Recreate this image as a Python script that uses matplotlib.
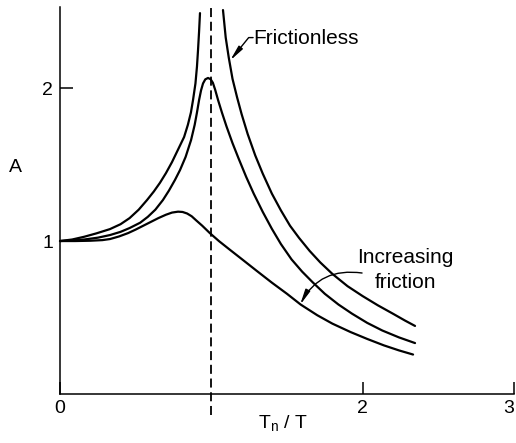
import matplotlib
matplotlib.use("Agg")
import matplotlib.pyplot as plt

plt.rcParams['font.family'] = ['Liberation Sans', 'DejaVu Sans']

# Amplitude A against frequency ratio Tn/T
x_free_low = [0.00, 0.08, 0.16, 0.24, 0.33, 0.40, 0.46, 0.52, 0.575, 0.62, 0.66, 0.70, 0.74, 0.78,
              0.82, 0.845, 0.865, 0.879, 0.895, 0.905, 0.912, 0.919, 0.925]
a_free_low = [1.000, 1.010, 1.028, 1.050, 1.078, 1.110, 1.150, 1.205, 1.268, 1.324, 1.380, 1.444, 1.516, 1.598,
              1.680, 1.760, 1.840, 1.922, 2.030, 2.140, 2.248, 2.370, 2.490]

x_free_high = [1.077, 1.095, 1.115, 1.14, 1.17, 1.20, 1.24, 1.29, 1.34, 1.40, 1.46, 1.52, 1.58, 1.65,
               1.72, 1.80, 1.90, 2.00, 2.10, 2.20, 2.28, 2.346]
a_free_high = [2.510, 2.330, 2.200, 2.060, 1.940, 1.830, 1.700, 1.560, 1.440, 1.310, 1.200, 1.100, 1.020, 0.935,
               0.860, 0.785, 0.705, 0.640, 0.580, 0.525, 0.480, 0.445]

x_mid = [0.00, 0.08, 0.16, 0.25, 0.33, 0.40, 0.46, 0.53, 0.58, 0.63, 0.68, 0.72, 0.76, 0.793, 0.83, 0.866,
         0.89, 0.905, 0.919, 0.932, 0.945, 0.96, 0.978, 0.995, 1.010, 1.025, 1.045, 1.07, 1.10, 1.14, 1.18,
         1.23, 1.28, 1.34, 1.40, 1.46, 1.53, 1.60, 1.67, 1.75, 1.84, 1.93, 2.03, 2.13, 2.24, 2.346]
a_mid = [1.000, 1.004, 1.010, 1.022, 1.039, 1.060, 1.085, 1.120, 1.158, 1.205, 1.268, 1.330, 1.400, 1.464, 1.550, 1.660,
         1.760, 1.840, 1.922, 1.985, 2.030, 2.057, 2.066, 2.058, 2.035, 1.990, 1.920, 1.840, 1.750, 1.640, 1.540,
         1.420, 1.310, 1.190, 1.080, 0.980, 0.880, 0.800, 0.730, 0.655, 0.585, 0.525, 0.465, 0.415, 0.370, 0.333]

x_low = [0.00, 0.10, 0.20, 0.28, 0.33, 0.39, 0.45, 0.50, 0.55, 0.60, 0.65, 0.70, 0.74, 0.78, 0.81, 0.84,
         0.87, 0.90, 0.94, 0.99, 1.05, 1.12, 1.20, 1.30, 1.40, 1.50, 1.59, 1.70, 1.80, 1.92, 2.03, 2.14,
         2.24, 2.333]
a_low = [1.000, 1.000, 1.002, 1.006, 1.013, 1.030, 1.052, 1.075, 1.100, 1.125, 1.150, 1.172, 1.186, 1.192, 1.190, 1.180,
         1.162, 1.135, 1.100, 1.052, 1.000, 0.945, 0.883, 0.805, 0.728, 0.655, 0.585, 0.515, 0.460, 0.405, 0.360, 0.318,
         0.285, 0.258]

fig = plt.figure(figsize=(5.16, 4.43), dpi=100)
ax = fig.add_axes([0.1163, 0.1106, 0.8798, 0.8736])

curve = dict(color='black', lw=1.6, solid_capstyle='round', solid_joinstyle='round', clip_on=False)
ax.plot(x_free_low, a_free_low, **curve)
ax.plot(x_free_high, a_free_high, **curve)
ax.plot(x_mid, a_mid, **curve)
ax.plot(x_low, a_low, **curve)

# resonance line at Tn/T = 1
ax.plot([1, 1], [-0.137, 2.53], color='black', lw=1.3, ls=(0, (5, 2.6)), clip_on=False)

ax.set_xlim(0, 3)
ax.set_ylim(0, 2.53)
for side in ['top', 'right']:
    ax.spines[side].set_visible(False)
for side in ['left', 'bottom']:
    ax.spines[side].set_linewidth(1.1)

ax.set_xticks([0, 2, 3])
ax.set_xticklabels(['0', '2', '3'])
ax.set_yticks([1, 2])
ax.set_yticklabels(['1', '2'])
ax.tick_params(axis='x', direction='in', length=9, width=1.1, pad=4, labelsize=14)
ax.tick_params(axis='y', direction='in', length=9, width=1.1, pad=5, labelsize=14)
ax.get_xticklabels()[-1].set_horizontalalignment('right')

ax.text(-0.297, 1.454, 'A', fontsize=14, ha='center', va='baseline')
ax.text(1.475, -0.224, r'T$_\mathregular{n}$ / T', fontsize=14, ha='center', va='baseline')

# labels with leaders
ax.text(1.276, 2.285, 'Frictionless', fontsize=15, ha='left', va='baseline')
ax.annotate('', xy=(1.124, 2.18), xytext=(1.276, 2.33),
            arrowprops=dict(arrowstyle='-|>,head_length=0.9,head_width=0.15', color='black', lw=1.0,
                            shrinkA=0, shrinkB=0,
                            connectionstyle='angle,angleA=0,angleB=51,rad=0'))

ax.text(2.28, 0.855, 'Increasing', fontsize=15, ha='center', va='baseline')
ax.text(2.28, 0.691, 'friction', fontsize=15, ha='center', va='baseline')
ax.annotate('', xy=(1.586, 0.582), xytext=(1.996, 0.791),
            arrowprops=dict(arrowstyle='-|>,head_length=0.9,head_width=0.15', color='black', lw=1.0,
                            shrinkA=0, shrinkB=0,
                            connectionstyle='arc3,rad=0.35'))

fig.savefig('out.png', dpi=100)
